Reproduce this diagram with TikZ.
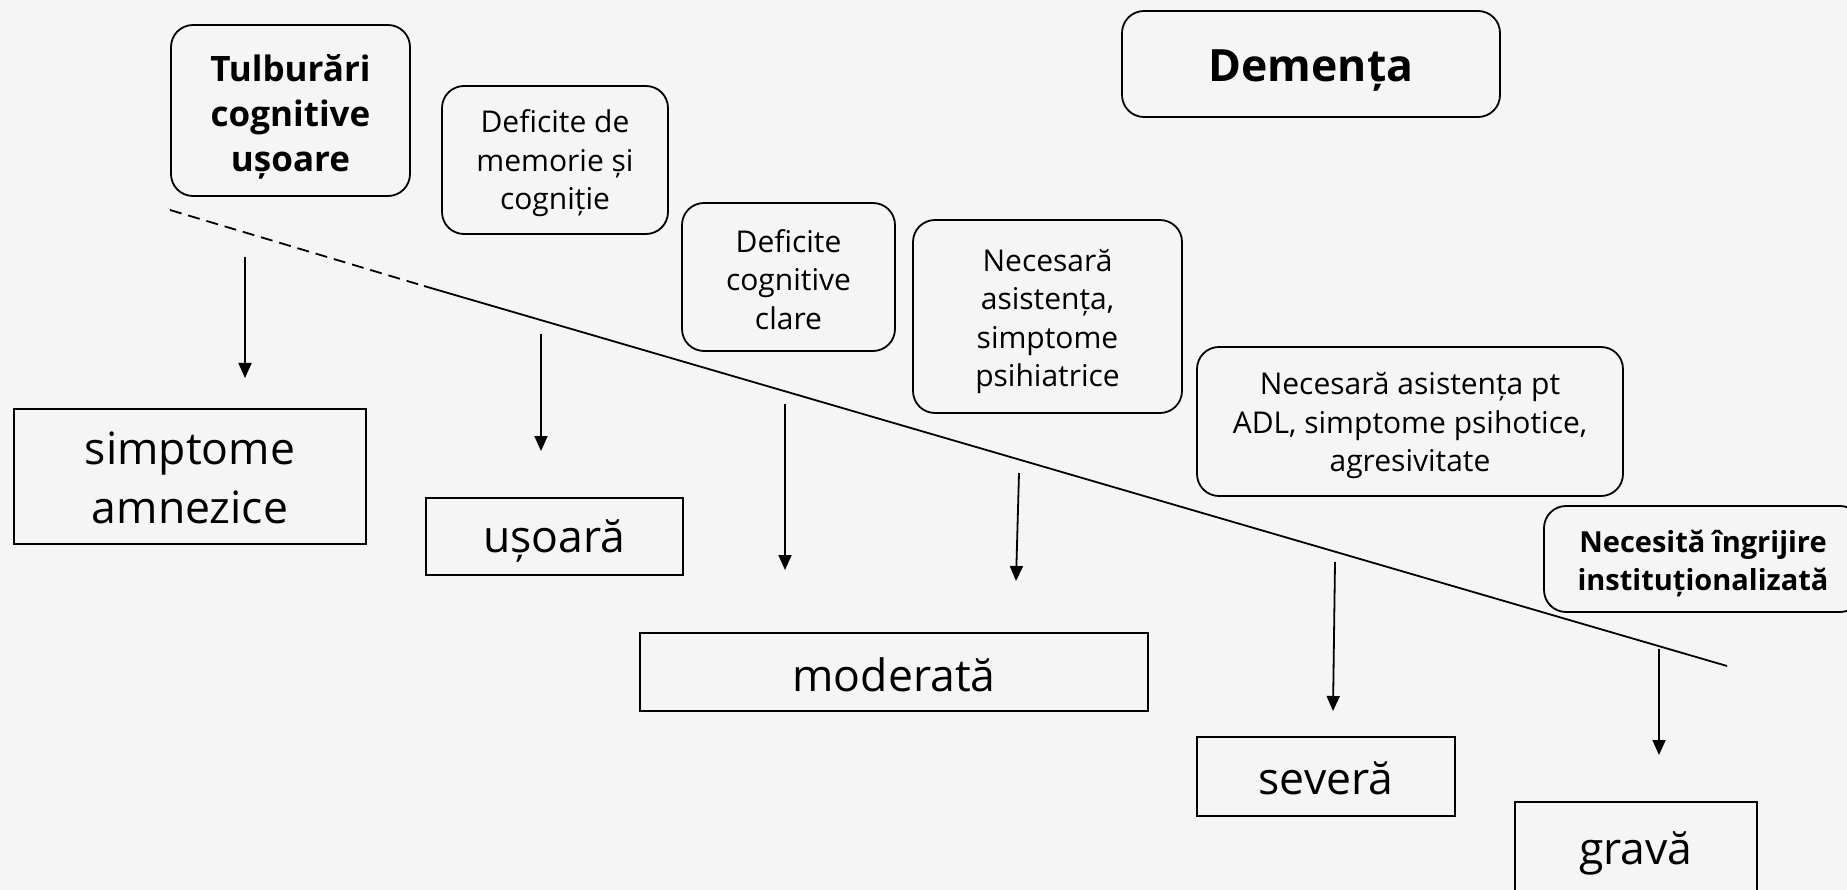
\documentclass[tikz,border=0pt]{standalone}
\usepackage{fontspec}
\setmainfont{Open Sans}
\usetikzlibrary{arrows.meta}
\definecolor{bgc}{HTML}{F5F5F5}
\tikzset{
  rbox/.style={draw=black, line width=1.8pt, rounded corners=22pt, inner sep=0pt, fill=bgc},
  sbox/.style={draw=black, line width=1.8pt, inner sep=0pt, fill=bgc},
  lbl/.style={inner sep=0pt, align=center},
  smalltxt/.style={font=\fontsize{30}{38.5}\selectfont},
  boldtxt/.style={font=\bfseries\fontsize{35}{45}\selectfont},
  bigtxt/.style={font=\fontsize{44.5}{59}\selectfont},
  arr/.style={line width=1.8pt, -{Triangle[length=15pt,width=13pt]}},
  slope/.style={line width=1.8pt}
}
\begin{document}
\begin{tikzpicture}[x=1pt,y=-1pt]
\useasboundingbox (0,0) rectangle (1847,890);
\fill[bgc] (0,0) rectangle (1847,890);
\begin{scope}
\clip (0,0) rectangle (1847,890);
% slope line
\coordinate (l0) at (170,210);
\coordinate (l1) at (424,286);
\coordinate (l2) at (1727,666);
\draw[slope, dash pattern=on 12pt off 7pt] (l0) -- (l1);
\draw[slope] (l1) -- (l2);

% rounded boxes
\node[rbox, minimum width=239pt, minimum height=171pt] (tcu) at (290.5,110.5) {};
\node[lbl, boldtxt] (tcut) at ([yshift=-6pt]tcu.center) {Tulburări\\cognitive\\ușoare};
\node[rbox, minimum width=226pt, minimum height=148pt] (dm) at (555,160) {};
\node[lbl, smalltxt] (dmt) at ([yshift=-3.5pt]dm.center) {Deficite de\\memorie și\\cogniție};
\node[rbox, minimum width=213pt, minimum height=148pt] (dc) at (788.5,277) {};
\node[lbl, smalltxt] (dct) at ([yshift=-2.5pt]dc.center) {Deficite\\cognitive\\clare};
\node[rbox, minimum width=269pt, minimum height=193pt] (na) at (1047.5,316.5) {};
\node[lbl, smalltxt] (nat) at ([yshift=-5pt]na.center) {Necesară\\asistența,\\simptome\\psihiatrice};
\node[rbox, minimum width=426pt, minimum height=149pt] (nadl) at (1410,421.5) {};
\node[lbl, smalltxt] (nadlt) at ([yshift=-4.5pt]nadl.center) {Necesară asistența pt\\ADL, simptome psihotice,\\agresivitate};
\node[rbox, minimum width=318pt, minimum height=106pt] (nii) at (1703,559) {};
\node[lbl, font=\bfseries\fontsize{29}{38}\selectfont] (niit) at ([yshift=-4.5pt]nii.center) {Necesită îngrijire\\instituționalizată};
\node[rbox, minimum width=378pt, minimum height=106pt] (dem) at (1311,64) {};
\node[lbl, font=\bfseries\fontsize{44.5}{55}\selectfont] (demt) at ([yshift=-7pt]dem.center) {Demența};

% rectangles
\node[sbox, minimum width=352pt, minimum height=135pt] (sa) at (190,476.5) {};
\node[lbl, bigtxt] (sat) at ([yshift=-1pt]sa.center) {simptome\\amnezice};
\node[sbox, minimum width=257pt, minimum height=77pt] (us) at (554.5,536.5) {};
\node[lbl, bigtxt] (ust) at ([yshift=-5pt]us.center) {ușoară};
\node[sbox, minimum width=508pt, minimum height=78pt] (mod) at (894,672) {};
\node[lbl, bigtxt] (modt) at ([yshift=-2.5pt]mod.center) {moderată};
\node[sbox, minimum width=258pt, minimum height=79pt] (sev) at (1326,776.5) {};
\node[lbl, bigtxt] (sevt) at ([yshift=-1.5pt]sev.center) {severă};
\node[sbox, minimum width=242pt, minimum height=98pt] (gr) at (1636,851) {};
\node[lbl, bigtxt] (grt) at ([yshift=-2.5pt]gr.center) {gravă};

% arrows
\coordinate (a1s) at (245,257); \coordinate (a1e) at (245,378);
\coordinate (a2s) at (541,334); \coordinate (a2e) at (541,451);
\coordinate (a3s) at (785,404); \coordinate (a3e) at (785,570);
\coordinate (a4s) at (1019,473); \coordinate (a4e) at (1016,581);
\coordinate (a5s) at (1335,562); \coordinate (a5e) at (1333,711);
\coordinate (a6s) at (1659,649); \coordinate (a6e) at (1659,755);
\draw[arr] (a1s) -- (a1e);
\draw[arr] (a2s) -- (a2e);
\draw[arr] (a3s) -- (a3e);
\draw[arr] (a4s) -- (a4e);
\draw[arr] (a5s) -- (a5e);
\draw[arr] (a6s) -- (a6e);
\end{scope}
\end{tikzpicture}
\end{document}
